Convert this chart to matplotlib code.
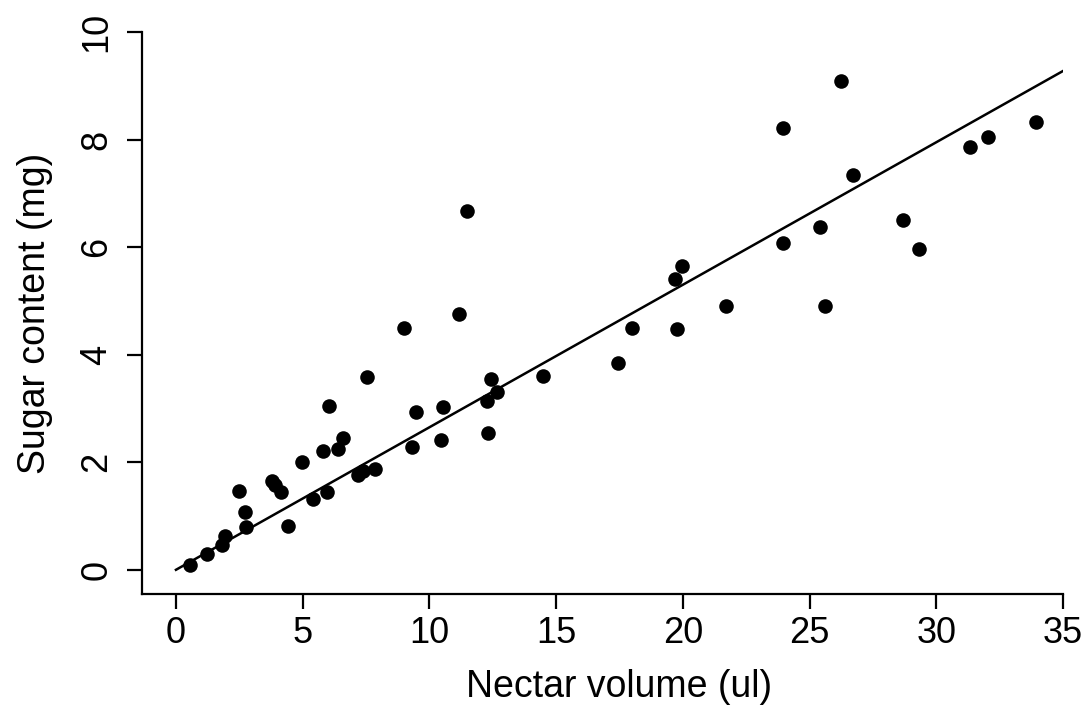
import numpy as np
import matplotlib
matplotlib.use('Agg')
import matplotlib.pyplot as plt

plt.rcParams['font.family'] = ['Liberation Sans', 'DejaVu Sans']

# nectar volume (ul) and sugar content (mg)
volume = [0.55, 1.24, 1.80, 1.95, 2.50, 2.72, 2.75, 3.80, 3.90, 4.15, 4.41,
          4.96, 5.42, 5.79, 5.95, 6.05, 6.38, 6.60, 7.20, 7.39, 7.52, 7.85,
          9.00, 9.30, 9.47, 10.45, 10.55, 11.17, 11.47, 12.26, 12.33, 12.43,
          12.65, 14.50, 17.43, 17.98, 19.69, 19.75, 19.95, 21.70, 23.95,
          23.95, 25.41, 25.60, 26.23, 26.70, 28.69, 29.32, 31.32, 32.06, 33.95]
sugar = [0.09, 0.30, 0.47, 0.62, 1.46, 1.07, 0.79, 1.65, 1.58, 1.44, 0.81,
         2.01, 1.32, 2.21, 1.44, 3.05, 2.24, 2.45, 1.77, 1.83, 3.59, 1.87,
         4.50, 2.29, 2.93, 2.42, 3.02, 4.76, 6.68, 3.13, 2.55, 3.54,
         3.30, 3.61, 3.85, 4.50, 5.40, 4.47, 5.65, 4.91, 8.22,
         6.08, 6.37, 4.91, 9.09, 7.34, 6.51, 5.97, 7.86, 8.05, 8.32]

# fitted line
fit_x = [0, 35]
slope = 0.265
intercept = 0.0

fig = plt.figure(figsize=(10.89, 7.07), dpi=100)
ax = fig.add_axes([142 / 1089, 1 - 594 / 707, (1063 - 142) / 1089, (594 - 32) / 707])

ax.scatter(volume, sugar, s=110, color='black', linewidths=0, zorder=3)
fx = np.array(fit_x)
ax.plot(fx, intercept + slope * fx, color='black', lw=1.8)

ax.set_xlim(-1.34, 35)
ax.set_ylim(-0.45, 10)
ax.set_xticks(range(0, 36, 5))
ax.set_yticks(range(0, 11, 2))
ax.spines['top'].set_visible(False)
ax.spines['right'].set_visible(False)
ax.spines['left'].set_linewidth(1.6)
ax.spines['bottom'].set_linewidth(1.6)
ax.tick_params(length=11, width=1.6, labelsize=26)
ax.tick_params(axis='x', pad=5)
ax.tick_params(axis='y', pad=9)
for lab in ax.get_yticklabels():
    lab.set_rotation(90)
    lab.set_va('center')

ax.set_xlabel('Nectar volume (ul)', fontsize=27, labelpad=13)
ax.xaxis.label.set_x((17.5 + 1.34) / (35 + 1.34))  # centred under the 0-35 ticks
ax.set_ylabel('Sugar content (mg)', fontsize=27, labelpad=19)

fig.savefig('out.png', dpi=100)
